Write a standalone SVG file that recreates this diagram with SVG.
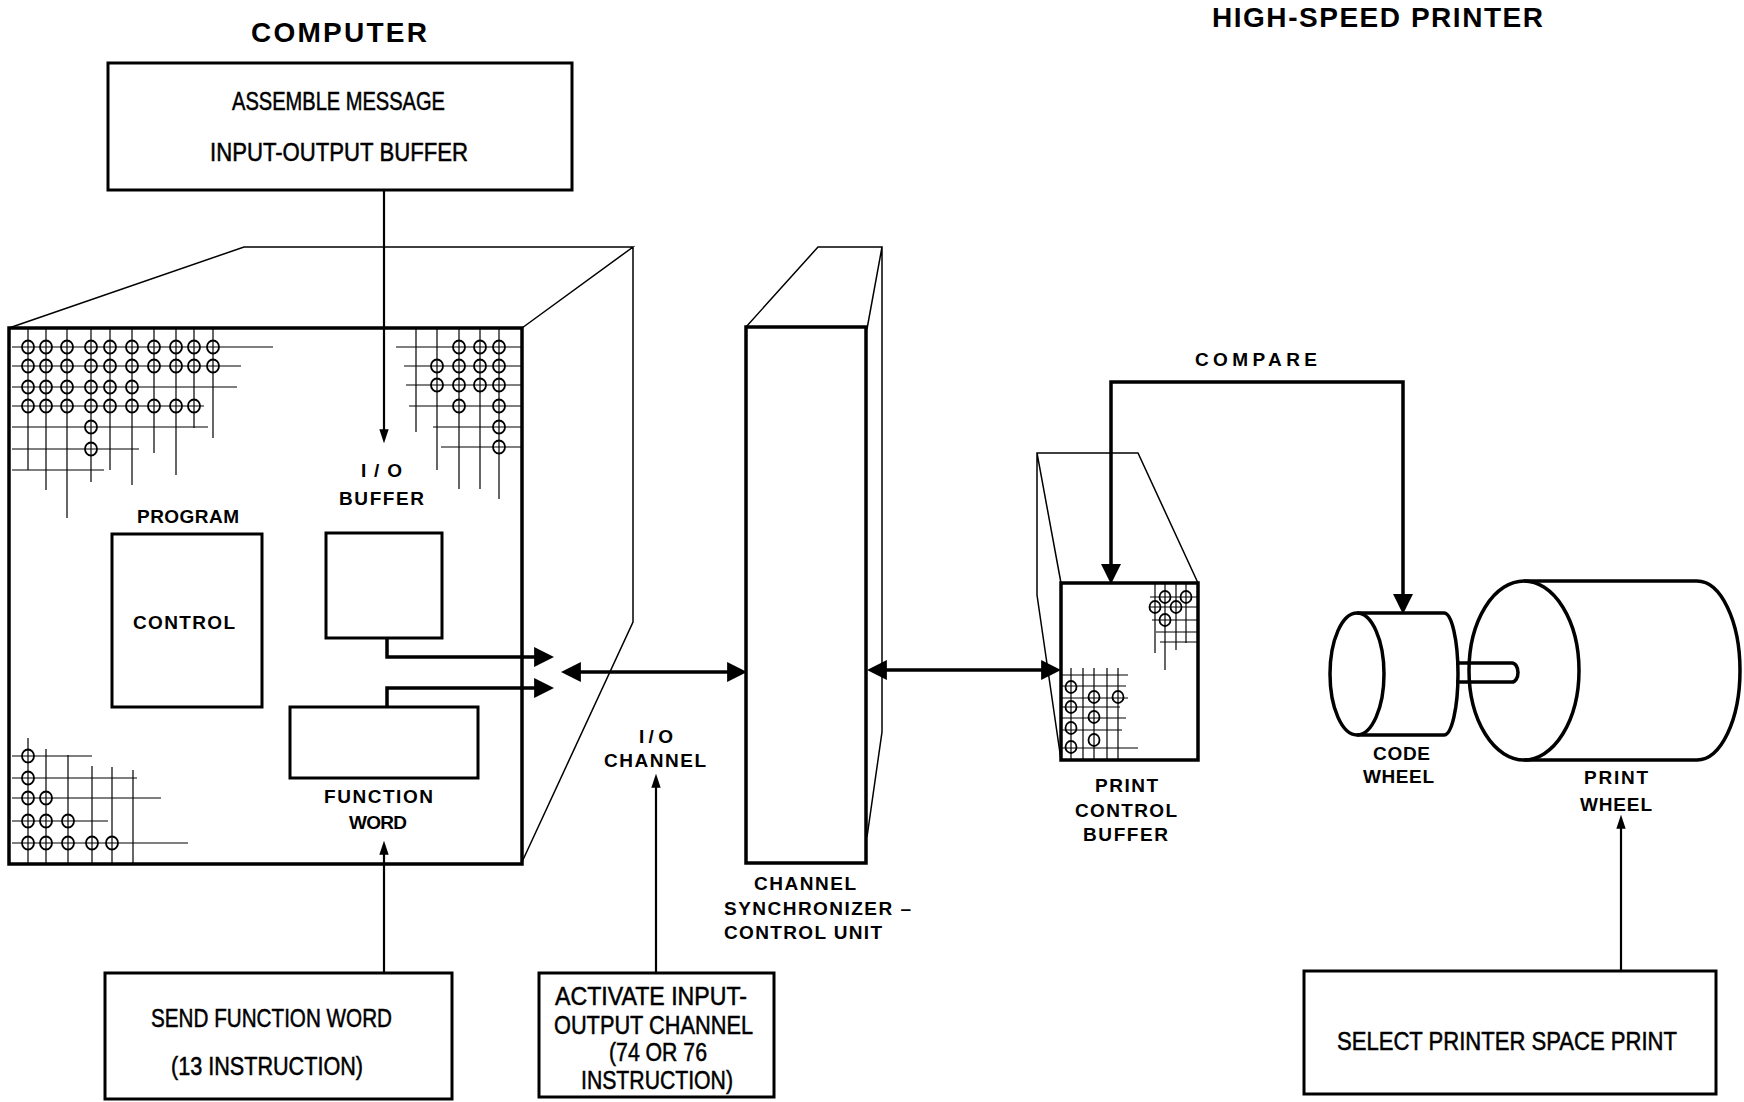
<svg xmlns="http://www.w3.org/2000/svg" width="1744" height="1102" viewBox="0 0 1744 1102">
<style>
.bg{fill:#fff}
.thick{fill:none;stroke:#000;stroke-width:3.5}
.thin{fill:none;stroke:#000;stroke-width:1.5}
.grid line{stroke:#000;stroke-width:1.2}
.grid ellipse{fill:none;stroke:#000;stroke-width:1.8}
.box{fill:none;stroke:#000;stroke-width:3}
.bt{font-family:"Liberation Sans",Arial,sans-serif;font-size:25px;fill:#000;stroke:#000;stroke-width:0.5}
.lb{font-family:"Liberation Sans",Arial,sans-serif;font-weight:bold;font-size:19px;fill:#000}
.title{font-family:"Liberation Sans",Arial,sans-serif;font-weight:bold;font-size:28px;fill:#000}
.conn{fill:none;stroke:#000;stroke-width:3.5}
.connt{fill:none;stroke:#000;stroke-width:2.2}
</style>
<defs>
<marker id="big" markerUnits="userSpaceOnUse" markerWidth="20" markerHeight="20" refX="8" refY="9" orient="auto-start-reverse" viewBox="0 0 18 18"><path d="M0,0 L18,9 L0,18 z" fill="#000"/></marker>
<marker id="sm" markerUnits="userSpaceOnUse" markerWidth="14" markerHeight="10" refX="4" refY="4" orient="auto-start-reverse" viewBox="0 0 12 8"><path d="M0,0 L12,4 L0,8 z" fill="#000"/></marker>
</defs>
<rect class="bg" x="0" y="0" width="1744" height="1102"/>

<text class="title" x="251" y="42" textLength="176" lengthAdjust="spacing">COMPUTER</text>
<text class="title" x="1212" y="27" textLength="331" lengthAdjust="spacing">HIGH-SPEED PRINTER</text>

<g id="assemble-message">
<rect class="box" x="108" y="63" width="464" height="127"/>
<text class="bt" x="232" y="110" textLength="213" lengthAdjust="spacingAndGlyphs">ASSEMBLE MESSAGE</text>
<text class="bt" x="210" y="161" textLength="258" lengthAdjust="spacingAndGlyphs">INPUT-OUTPUT BUFFER</text>
</g>

<g id="computer">
<path class="thin" d="M9,328 L244,247 L633,247 L522,328 M633,247 L633,622 L522,862"/>
<rect class="thick" x="9" y="328" width="513" height="536"/>
<g class="grid">
<line x1="28" y1="328" x2="28" y2="470"/><line x1="46" y1="328" x2="46" y2="490"/><line x1="67" y1="328" x2="67" y2="518"/><line x1="91" y1="328" x2="91" y2="482"/><line x1="110" y1="328" x2="110" y2="470"/><line x1="132" y1="328" x2="132" y2="485"/><line x1="154" y1="328" x2="154" y2="453"/><line x1="176" y1="328" x2="176" y2="475"/><line x1="194" y1="328" x2="194" y2="428"/><line x1="213" y1="328" x2="213" y2="438"/>
<line x1="12" y1="347" x2="273" y2="347"/><line x1="12" y1="366" x2="241" y2="366"/><line x1="12" y1="387" x2="237" y2="387"/><line x1="12" y1="406" x2="204" y2="406"/><line x1="12" y1="427" x2="208" y2="427"/><line x1="12" y1="449" x2="139" y2="449"/><line x1="12" y1="470" x2="104" y2="470"/>
<ellipse cx="28" cy="347" rx="6" ry="6.5"/><ellipse cx="46" cy="347" rx="6" ry="6.5"/><ellipse cx="67" cy="347" rx="6" ry="6.5"/><ellipse cx="91" cy="347" rx="6" ry="6.5"/><ellipse cx="110" cy="347" rx="6" ry="6.5"/><ellipse cx="132" cy="347" rx="6" ry="6.5"/><ellipse cx="154" cy="347" rx="6" ry="6.5"/><ellipse cx="176" cy="347" rx="6" ry="6.5"/><ellipse cx="194" cy="347" rx="6" ry="6.5"/><ellipse cx="213" cy="347" rx="6" ry="6.5"/>
<ellipse cx="28" cy="366" rx="6" ry="6.5"/><ellipse cx="46" cy="366" rx="6" ry="6.5"/><ellipse cx="67" cy="366" rx="6" ry="6.5"/><ellipse cx="91" cy="366" rx="6" ry="6.5"/><ellipse cx="110" cy="366" rx="6" ry="6.5"/><ellipse cx="132" cy="366" rx="6" ry="6.5"/><ellipse cx="154" cy="366" rx="6" ry="6.5"/><ellipse cx="176" cy="366" rx="6" ry="6.5"/><ellipse cx="194" cy="366" rx="6" ry="6.5"/><ellipse cx="213" cy="366" rx="6" ry="6.5"/>
<ellipse cx="28" cy="387" rx="6" ry="6.5"/><ellipse cx="46" cy="387" rx="6" ry="6.5"/><ellipse cx="67" cy="387" rx="6" ry="6.5"/><ellipse cx="91" cy="387" rx="6" ry="6.5"/><ellipse cx="110" cy="387" rx="6" ry="6.5"/><ellipse cx="132" cy="387" rx="6" ry="6.5"/>
<ellipse cx="28" cy="406" rx="6" ry="6.5"/><ellipse cx="46" cy="406" rx="6" ry="6.5"/><ellipse cx="67" cy="406" rx="6" ry="6.5"/><ellipse cx="91" cy="406" rx="6" ry="6.5"/><ellipse cx="110" cy="406" rx="6" ry="6.5"/><ellipse cx="132" cy="406" rx="6" ry="6.5"/><ellipse cx="154" cy="406" rx="6" ry="6.5"/><ellipse cx="176" cy="406" rx="6" ry="6.5"/><ellipse cx="194" cy="406" rx="6" ry="6.5"/>
<ellipse cx="91" cy="427" rx="6" ry="6.5"/><ellipse cx="91" cy="449" rx="6" ry="6.5"/>
<line x1="416" y1="328" x2="416" y2="432"/><line x1="437" y1="328" x2="437" y2="470"/><line x1="459" y1="328" x2="459" y2="489"/><line x1="480" y1="328" x2="480" y2="489"/><line x1="499" y1="328" x2="499" y2="499"/>
<line x1="396" y1="347" x2="522" y2="347"/><line x1="404" y1="366" x2="522" y2="366"/><line x1="406" y1="385" x2="522" y2="385"/><line x1="409" y1="406" x2="522" y2="406"/><line x1="433" y1="427" x2="522" y2="427"/><line x1="441" y1="447" x2="522" y2="447"/>
<ellipse cx="459" cy="347" rx="6" ry="6.5"/><ellipse cx="480" cy="347" rx="6" ry="6.5"/><ellipse cx="499" cy="347" rx="6" ry="6.5"/>
<ellipse cx="437" cy="366" rx="6" ry="6.5"/><ellipse cx="459" cy="366" rx="6" ry="6.5"/><ellipse cx="480" cy="366" rx="6" ry="6.5"/><ellipse cx="499" cy="366" rx="6" ry="6.5"/>
<ellipse cx="437" cy="385" rx="6" ry="6.5"/><ellipse cx="459" cy="385" rx="6" ry="6.5"/><ellipse cx="480" cy="385" rx="6" ry="6.5"/><ellipse cx="499" cy="385" rx="6" ry="6.5"/>
<ellipse cx="459" cy="406" rx="6" ry="6.5"/><ellipse cx="499" cy="406" rx="6" ry="6.5"/><ellipse cx="499" cy="427" rx="6" ry="6.5"/><ellipse cx="499" cy="447" rx="6" ry="6.5"/>
<line x1="28" y1="738" x2="28" y2="864"/><line x1="46" y1="749" x2="46" y2="864"/><line x1="68" y1="755" x2="68" y2="864"/><line x1="92" y1="766" x2="92" y2="864"/><line x1="112" y1="767" x2="112" y2="864"/><line x1="133" y1="770" x2="133" y2="864"/>
<line x1="12" y1="756" x2="92" y2="756"/><line x1="12" y1="778" x2="137" y2="778"/><line x1="12" y1="798" x2="161" y2="798"/><line x1="12" y1="821" x2="108" y2="821"/><line x1="12" y1="843" x2="188" y2="843"/>
<ellipse cx="28" cy="756" rx="6" ry="6.5"/><ellipse cx="28" cy="778" rx="6" ry="6.5"/><ellipse cx="28" cy="798" rx="6" ry="6.5"/><ellipse cx="46" cy="798" rx="6" ry="6.5"/>
<ellipse cx="28" cy="821" rx="6" ry="6.5"/><ellipse cx="46" cy="821" rx="6" ry="6.5"/><ellipse cx="68" cy="821" rx="6" ry="6.5"/>
<ellipse cx="28" cy="843" rx="6" ry="6.5"/><ellipse cx="46" cy="843" rx="6" ry="6.5"/><ellipse cx="68" cy="843" rx="6" ry="6.5"/><ellipse cx="92" cy="843" rx="6" ry="6.5"/><ellipse cx="112" cy="843" rx="6" ry="6.5"/>
</g>
</g>

<g id="program-control">
<rect class="box" x="112" y="534" width="150" height="173"/>
<text class="lb" x="137" y="523" textLength="102" lengthAdjust="spacing">PROGRAM</text>
<text class="lb" x="133" y="629" textLength="102" lengthAdjust="spacing">CONTROL</text>
</g>

<g id="io-buffer">
<rect class="box" x="326" y="533" width="116" height="105"/>
<text class="lb" x="361" y="477" textLength="41" lengthAdjust="spacing">I/O</text>
<text class="lb" x="339" y="505" textLength="85" lengthAdjust="spacing">BUFFER</text>
</g>

<g id="function-word">
<rect class="box" x="290" y="707" width="188" height="71"/>
<text class="lb" x="324" y="803" textLength="109" lengthAdjust="spacing">FUNCTION</text>
<text class="lb" x="349" y="829" font-size="18" textLength="58" lengthAdjust="spacing">WORD</text>
</g>

<g id="io-channel-label">
<text class="lb" x="639" y="743" textLength="34" lengthAdjust="spacing">I/O</text>
<text class="lb" x="604" y="767" textLength="102" lengthAdjust="spacing">CHANNEL</text>
</g>

<g id="channel-synchronizer">
<path class="thin" d="M746,327 L818,247 L882,247 L867,329 M882,247 L882,732 L867,837"/>
<rect class="thick" x="746" y="327" width="120" height="536"/>
<text class="lb" x="754" y="890" textLength="102" lengthAdjust="spacing">CHANNEL</text>
<text class="lb" x="724" y="915" textLength="187" lengthAdjust="spacing">SYNCHRONIZER –</text>
<text class="lb" x="724" y="939" textLength="158" lengthAdjust="spacing">CONTROL UNIT</text>
</g>

<g id="print-control-buffer">
<path class="thin" d="M1061,583 L1037,453 L1138,453 L1198,583 M1037,453 L1037,595 L1061,760"/>
<rect class="thick" x="1061" y="583" width="137" height="177"/>
<g class="grid">
<line x1="1155" y1="583" x2="1155" y2="653"/><line x1="1165" y1="583" x2="1165" y2="670"/><line x1="1176" y1="583" x2="1176" y2="650"/><line x1="1186" y1="583" x2="1186" y2="643"/>
<line x1="1150" y1="597" x2="1198" y2="597"/><line x1="1150" y1="607" x2="1198" y2="607"/><line x1="1152" y1="620" x2="1198" y2="620"/><line x1="1156" y1="632" x2="1198" y2="632"/><line x1="1160" y1="642" x2="1198" y2="642"/>
<ellipse cx="1165" cy="597" rx="5.5" ry="6"/><ellipse cx="1186" cy="597" rx="5.5" ry="6"/><ellipse cx="1155" cy="607" rx="5.5" ry="6"/><ellipse cx="1176" cy="607" rx="5.5" ry="6"/><ellipse cx="1165" cy="620" rx="5.5" ry="6"/>
<line x1="1071" y1="668" x2="1071" y2="760"/><line x1="1083" y1="668" x2="1083" y2="760"/><line x1="1094" y1="668" x2="1094" y2="760"/><line x1="1107" y1="668" x2="1107" y2="760"/><line x1="1118" y1="668" x2="1118" y2="760"/>
<line x1="1061" y1="675" x2="1128" y2="675"/><line x1="1061" y1="686" x2="1126" y2="686"/><line x1="1061" y1="698" x2="1128" y2="698"/><line x1="1061" y1="707" x2="1120" y2="707"/><line x1="1061" y1="718" x2="1126" y2="718"/><line x1="1061" y1="730" x2="1122" y2="730"/><line x1="1061" y1="748" x2="1138" y2="748"/>
<ellipse cx="1071" cy="687" rx="5.5" ry="6"/><ellipse cx="1071" cy="707" rx="5.5" ry="6"/><ellipse cx="1071" cy="728" rx="5.5" ry="6"/><ellipse cx="1071" cy="747" rx="5.5" ry="6"/>
<ellipse cx="1094" cy="697" rx="5.5" ry="6"/><ellipse cx="1094" cy="717" rx="5.5" ry="6"/><ellipse cx="1094" cy="740" rx="5.5" ry="6"/><ellipse cx="1118" cy="697" rx="5.5" ry="6"/>
</g>
<text class="lb" x="1095" y="792" textLength="63" lengthAdjust="spacing">PRINT</text>
<text class="lb" x="1075" y="817" textLength="102" lengthAdjust="spacing">CONTROL</text>
<text class="lb" x="1083" y="841" textLength="85" lengthAdjust="spacing">BUFFER</text>
</g>

<g id="code-wheel">
<path class="thick" d="M1357,613 L1444,613 A14,61 0 0 1 1444,735 L1357,735"/>
<ellipse class="thick" cx="1357" cy="674" rx="27" ry="61"/>
<path class="thick" d="M1456,663 L1512,663 A6,9.5 0 0 1 1512,682 L1456,682"/>
<text class="lb" x="1373" y="760" textLength="57" lengthAdjust="spacing">CODE</text>
<text class="lb" x="1363" y="783" textLength="71" lengthAdjust="spacing">WHEEL</text>
</g>

<g id="print-wheel">
<path class="thick" d="M1524,581 L1697,581 A43,89.5 0 0 1 1697,760 L1524,760"/>
<ellipse class="thick" cx="1524" cy="670.5" rx="55" ry="89.5"/>
<text class="lb" x="1584" y="784" textLength="64" lengthAdjust="spacing">PRINT</text>
<text class="lb" x="1580" y="811" textLength="72" lengthAdjust="spacing">WHEEL</text>
</g>

<g id="send-function-word">
<rect class="box" x="105" y="973" width="347" height="126"/>
<text class="bt" x="151" y="1027" textLength="241" lengthAdjust="spacingAndGlyphs">SEND FUNCTION WORD</text>
<text class="bt" x="171" y="1075" textLength="192" lengthAdjust="spacingAndGlyphs">(13 INSTRUCTION)</text>
</g>

<g id="activate-channel">
<rect class="box" x="539" y="973" width="235" height="124"/>
<text class="bt" x="555" y="1005" textLength="192" lengthAdjust="spacingAndGlyphs">ACTIVATE INPUT-</text>
<text class="bt" x="554" y="1034" textLength="199" lengthAdjust="spacingAndGlyphs">OUTPUT CHANNEL</text>
<text class="bt" x="609" y="1061" textLength="98" lengthAdjust="spacingAndGlyphs">(74 OR 76</text>
<text class="bt" x="581" y="1089" textLength="152" lengthAdjust="spacingAndGlyphs">INSTRUCTION)</text>
</g>

<g id="select-printer">
<rect class="box" x="1304" y="971" width="412" height="123"/>
<text class="bt" x="1337" y="1050" textLength="340" lengthAdjust="spacingAndGlyphs">SELECT PRINTER SPACE PRINT</text>
</g>

<g id="compare-label">
<text class="lb" x="1195" y="366" font-size="22" textLength="122" lengthAdjust="spacing">COMPARE</text>
</g>

<g id="connectors">
<line class="connt" x1="384" y1="190" x2="384" y2="434" marker-end="url(#sm)"/>
<path class="conn" d="M387,638 V657 H543" marker-end="url(#big)"/>
<path class="conn" d="M387,707 V688 H543" marker-end="url(#big)"/>
<line class="conn" x1="572" y1="672" x2="736" y2="672" marker-start="url(#big)" marker-end="url(#big)"/>
<line class="conn" x1="878" y1="670" x2="1050" y2="670" marker-start="url(#big)" marker-end="url(#big)"/>
<path class="conn" d="M1111,573 V382 H1403 V603" marker-start="url(#big)" marker-end="url(#big)"/>
<line class="connt" x1="384" y1="973" x2="384" y2="850" marker-end="url(#sm)"/>
<line class="connt" x1="656" y1="972" x2="656" y2="783" marker-end="url(#sm)"/>
<line class="connt" x1="1621" y1="971" x2="1621" y2="824" marker-end="url(#sm)"/>
</g>
</svg>
